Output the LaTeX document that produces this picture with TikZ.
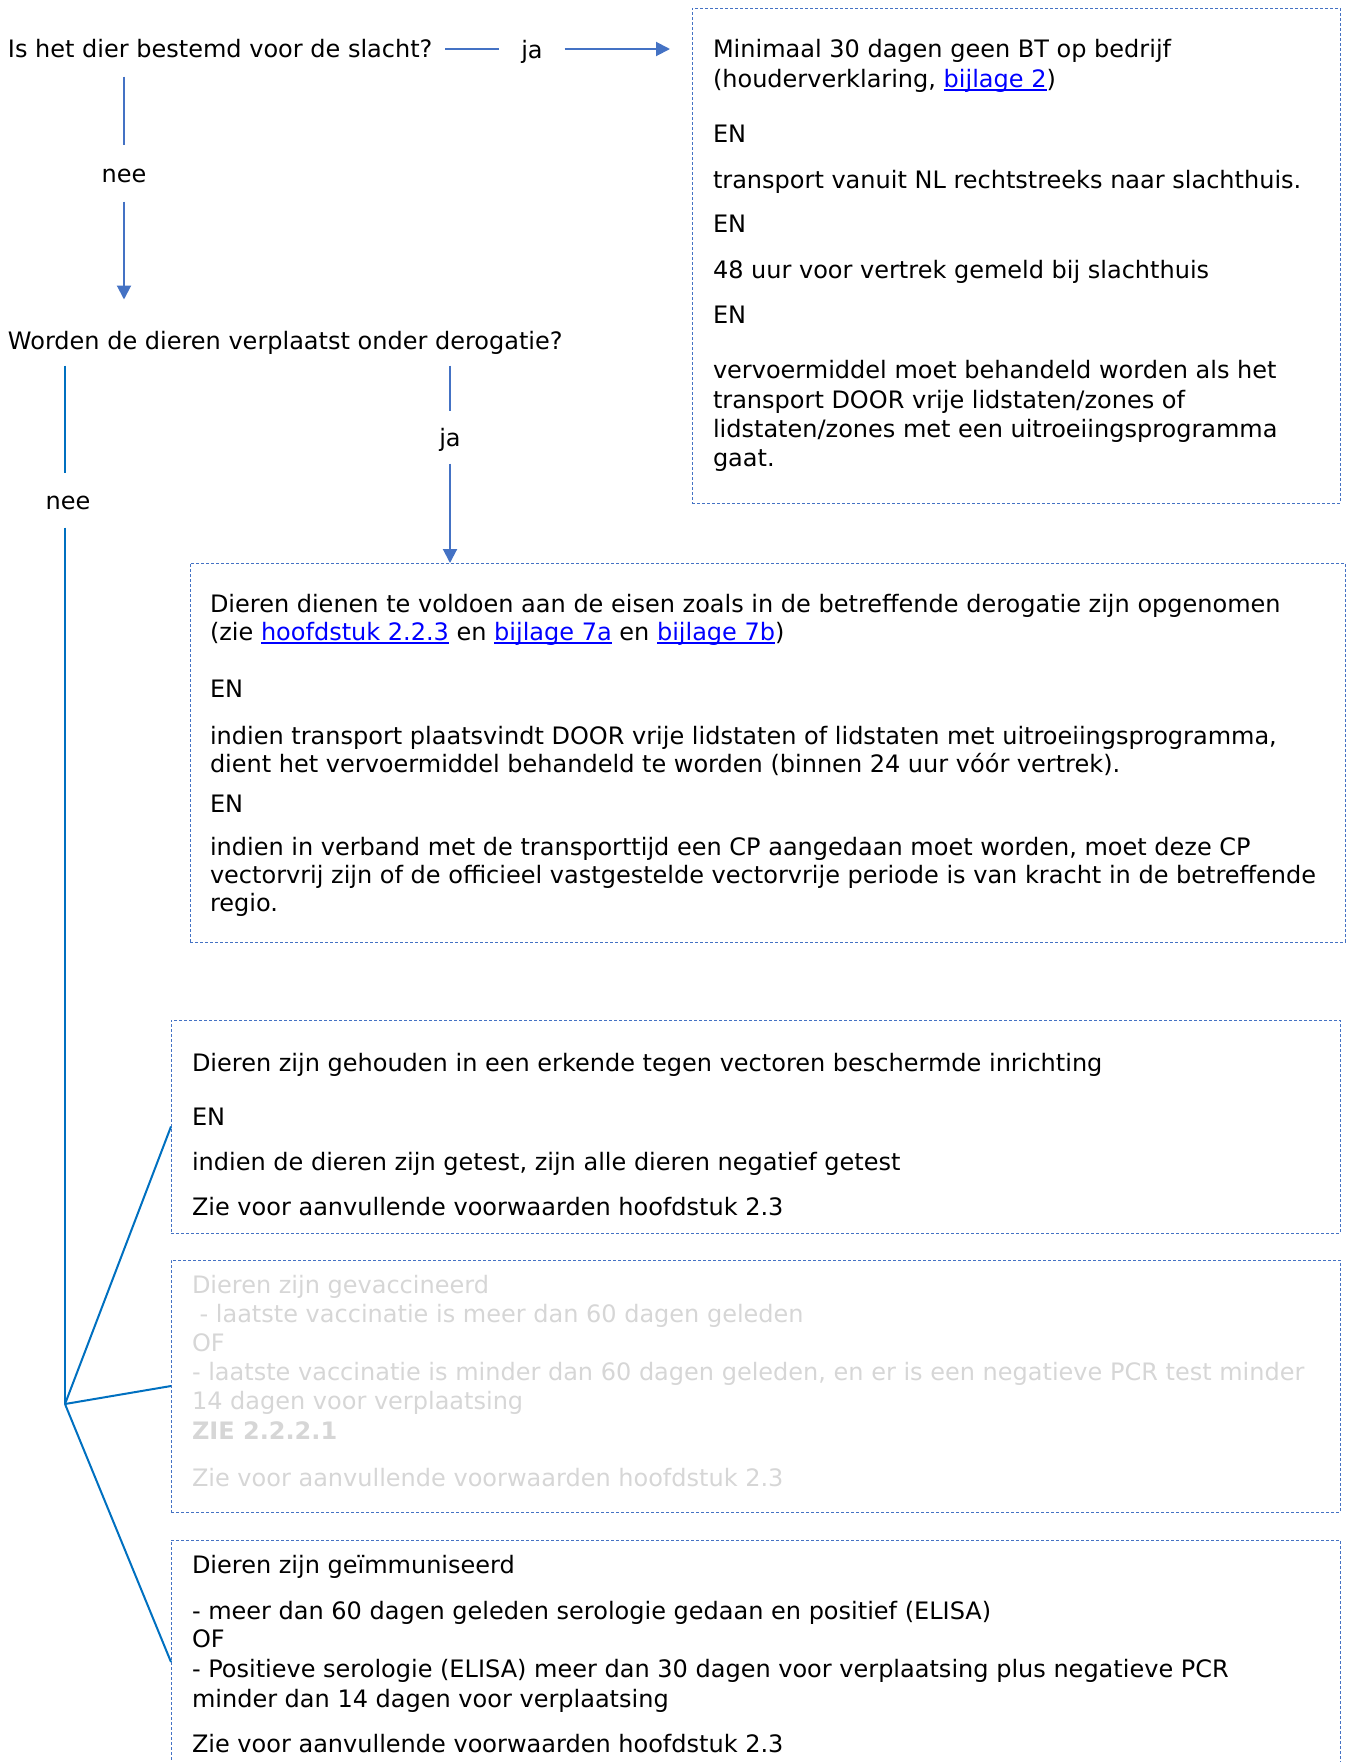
\documentclass[tikz,border=0pt]{standalone}
\usepackage{fontspec}
\setmainfont{DejaVu Sans}
\usetikzlibrary{arrows.meta}
\definecolor{arrblue}{HTML}{4472C4}
\definecolor{forkblue}{HTML}{0070C0}
\definecolor{linkblue}{HTML}{0000FF}
\definecolor{greytext}{HTML}{D6D6D6}
\newcommand\lnk[1]{\textcolor{linkblue}{\setbox0\hbox{#1}\rlap{\rule[-3pt]{\wd0}{1.4pt}}\box0}}
\begin{document}
\begin{tikzpicture}[x=1pt,y=-1pt,
  every node/.style={font=\fontsize{24pt}{30pt}\selectfont, inner sep=0pt, outer sep=0pt},
  txt/.style={anchor=mid west, yshift=-5pt},
  gtxt/.style={anchor=mid west, yshift=-5pt, text=greytext},
  lbl/.style={text height=13pt, text depth=0pt, inner xsep=0pt, inner ysep=20pt},
  box/.style={draw=arrblue, line width=1pt, dash pattern=on 3pt off 2pt},
  conn/.style={draw=arrblue, line width=2pt},
  conn2/.style={draw=forkblue, line width=2pt},
  arr/.style={draw=arrblue, line width=2pt, -{Triangle[length=14pt,width=14pt]}}
]
\path[use as bounding box] (0,0) rectangle (1347,1762);
\clip (0,0) rectangle (1347,1762);

% questions and labels
\node[txt] (q1) at (8,50) {Is het dier bestemd voor de slacht?};
\node[lbl, inner xsep=22pt] (ja1) at (532,49) {\raisebox{-3pt}{ja}};
\node[lbl, inner ysep=22pt] (nee1) at (124,173) {\raisebox{-3pt}{nee}};
\node[txt] (q2) at (8,342) {Worden de dieren verplaatst onder derogatie?};
\node[lbl, inner ysep=21pt] (nee2) at (68,500) {\raisebox{-3pt}{nee}};
\node[lbl] (ja2) at (450,437) {\raisebox{-3pt}{ja}};
\coordinate (fork) at (65,1404);

% boxes
\node[box, minimum width=648pt, minimum height=495pt] (box1) at (1016,255.5) {};
\node[box, minimum width=1155pt, minimum height=379pt] (box2) at (767.5,752.5) {};
\node[box, minimum width=1169pt, minimum height=213pt] (box3) at (755.5,1126.5) {};
\node[box, minimum width=1169pt, minimum height=252pt] (box4) at (755.5,1386) {};
\node[box, minimum width=1169pt, minimum height=280pt] (box5) at (755.5,1680) {};

% box 1 text
\node[txt] (b1l1) at (713,50) {Minimaal 30 dagen geen BT op bedrijf};
\node[txt] (b1l2) at (713,80) {(houderverklaring, \lnk{bijlage 2})};
\node[txt] (b1l3) at (713,135) {EN};
\node[txt] (b1l4) at (713,181) {transport vanuit NL rechtstreeks naar slachthuis.};
\node[txt] (b1l5) at (713,225) {EN};
\node[txt] (b1l6) at (713,271) {48 uur voor vertrek gemeld bij slachthuis};
\node[txt] (b1l7) at (713,316) {EN};
\node[txt] (b1l8) at (713,371) {vervoermiddel moet behandeld worden als het};
\node[txt] (b1l9) at (713,401) {transport DOOR vrije lidstaten/zones of};
\node[txt] (b1l10) at (713,430) {lidstaten/zones met een uitroeiingsprogramma};
\node[txt] (b1l11) at (713,459) {gaat.};

% box 2 text
\node[txt] (b2l1) at (210,605) {Dieren dienen te voldoen aan de eisen zoals in de betreffende derogatie zijn opgenomen};
\node[txt] (b2l2) at (210,633) {(zie \lnk{hoofdstuk 2.2.3} en \lnk{bijlage 7a} en \lnk{bijlage 7b})};
\node[txt] (b2l3) at (210,690) {EN};
\node[txt] (b2l4) at (210,737) {indien transport plaatsvindt DOOR vrije lidstaten of lidstaten met uitroeiingsprogramma,};
\node[txt] (b2l5) at (210,765) {dient het vervoermiddel behandeld te worden (binnen 24 uur vóór vertrek).};
\node[txt] (b2l6) at (210,805) {EN};
\node[txt] (b2l7) at (210,848) {indien in verband met de transporttijd een CP aangedaan moet worden, moet deze CP};
\node[txt] (b2l8) at (210,876) {vectorvrij zijn of de officieel vastgestelde vectorvrije periode is van kracht in de betreffende};
\node[txt] (b2l9) at (210,904) {regio.};

% box 3 text
\node[txt] (b3l1) at (192,1064) {Dieren zijn gehouden in een erkende tegen vectoren beschermde inrichting};
\node[txt] (b3l2) at (192,1118) {EN};
\node[txt] (b3l3) at (192,1163) {indien de dieren zijn getest, zijn alle dieren negatief getest};
\node[txt] (b3l4) at (192,1208) {Zie voor aanvullende voorwaarden hoofdstuk 2.3};

% box 4 text (grey)
\node[gtxt] (b4l1) at (192,1286) {Dieren zijn gevaccineerd};
\node[gtxt] (b4l2) at (192,1315) {\ - laatste vaccinatie is meer dan 60 dagen geleden};
\node[gtxt] (b4l3) at (192,1344) {OF};
\node[gtxt] (b4l4) at (192,1373) {- laatste vaccinatie is minder dan 60 dagen geleden, en er is een negatieve PCR test minder};
\node[gtxt] (b4l5) at (192,1402) {14 dagen voor verplaatsing};
\node[gtxt] (b4l6) at (192,1432) {\bfseries ZIE 2.2.2.1};
\node[gtxt] (b4l7) at (192,1479) {Zie voor aanvullende voorwaarden hoofdstuk 2.3};

% box 5 text
\node[txt] (b5l1) at (192,1566) {Dieren zijn geïmmuniseerd};
\node[txt] (b5l2) at (192,1612) {- meer dan 60 dagen geleden serologie gedaan en positief (ELISA)};
\node[txt] (b5l3) at (192,1640) {OF};
\node[txt] (b5l4) at (192,1670) {- Positieve serologie (ELISA) meer dan 30 dagen voor verplaatsing plus negatieve PCR};
\node[txt] (b5l5) at (192,1700) {minder dan 14 dagen voor verplaatsing};
\node[txt] (b5l6) at (192,1745) {Zie voor aanvullende voorwaarden hoofdstuk 2.3};

% connectors
\draw[conn, shorten <=13pt] (q1.east |- ja1) -- (ja1.west);
\draw[arr, shorten >=22pt] (ja1.east) -- (ja1.east -| box1.west);
\draw[conn, shorten <=18.5pt] (q1.south -| nee1) -- (nee1.north);
\draw[arr, shorten >=32pt] (nee1.south) -- (nee1.south |- q2.north);
\draw[conn2, shorten <=11pt] (q2.south -| fork) -- (nee2.north -| fork);
\draw[conn2] (nee2.south -| fork) -- (fork);
\draw[conn, shorten <=11pt] (q2.south -| ja2) -- (ja2.north);
\draw[arr] (ja2.south) -- (ja2.south |- box2.north);
\draw[conn2] (fork) -- (box3.west);
\draw[conn2] (fork) -- (box4.west);
\draw[conn2] (fork) -- ([yshift=18pt]box5.west);
\end{tikzpicture}
\end{document}
